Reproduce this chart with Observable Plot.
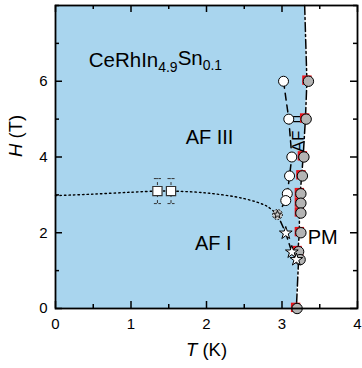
<!DOCTYPE html>
<html>
<head>
<meta charset="utf-8">
<script src="https://cdn.jsdelivr.net/npm/d3@7"></script>
<script src="https://cdn.jsdelivr.net/npm/@observablehq/plot@0.6"></script>
<style>
  html, body { margin: 0; padding: 0; background: #fff; }
  #chart svg { display: block; }
</style>
</head>
<body>
<div id="chart"></div>
<script>
// Axis ticks
const tempTicks = [0, 1, 2, 3, 4];
const tempMinor = [0.5, 1.5, 2.5, 3.5];
const fieldTicks = [0, 2, 4, 6];
const fieldMinor = [1, 3, 5, 7, 8];

// Paramagnetic boundary (dash-dot line, edge of the ordered region)
const boundaryT = [3.30, 3.33, 3.31, 3.28, 3.26, 3.24, 3.23, 3.23, 3.21, 3.22, 3.19];
const boundaryH = [8.0, 6.0, 5.0, 4.0, 3.5, 3.0, 2.5, 2.0, 1.5, 1.3, 0.0];

// T_N from specific heat (grey circles) and resistivity (red squares)
const grayT = [3.35, 3.32, 3.29, 3.27, 3.25, 3.25, 3.25, 3.25, 3.22, 3.24, 3.20];
const grayH = [6.0, 5.0, 4.0, 3.5, 3.03, 2.78, 2.52, 2.0, 1.5, 1.29, 0.0];
const redT = [3.33, 3.30, 3.27, 3.25, 3.23, 3.23, 3.23, 3.23, 3.20, 3.22, 3.18];
const redH = [6.03, 5.03, 4.03, 3.53, 3.06, 2.81, 2.55, 2.03, 1.53, 1.32, 0.03];

// AF III / AF II transition (open circles)
const openT = [3.02, 3.09, 3.13, 3.10, 3.07, 3.05];
const openH = [6.0, 5.0, 4.0, 3.5, 3.03, 2.85];

// AF I transition (stars) and the tricritical-like point
const starT = [3.05, 3.13, 3.19];
const starH = [1.99, 1.49, 1.29];
const crossT = [2.94];
const crossH = [2.48];

// Dashed line through open circles and stars
const dashT = [3.02, 3.09, 3.13, 3.10, 3.07, 3.05, 2.94, 3.05, 3.13, 3.19];
const dashH = [6.0, 5.0, 4.0, 3.5, 3.03, 2.85, 2.48, 1.99, 1.49, 1.29];

// Dotted AF I / AF III line and the low-temperature squares
const dotT = [0.0, 0.5, 1.0, 1.35, 1.53, 2.0, 2.5, 2.8, 2.94];
const dotH = [2.98, 3.02, 3.07, 3.10, 3.10, 3.05, 2.90, 2.70, 2.48];
const squareT = [1.35, 1.53];
const squareH = [3.10, 3.10];
const squareErr = [0.33, 0.33];

const zip = (xs, ys) => xs.map((x, i) => ({T: x, H: ys[i]}));
const boundary = zip(boundaryT, boundaryH);
const gray = zip(grayT, grayH);
const red = zip(redT, redH);
const open = zip(openT, openH);
const stars = zip(starT, starH);
const cross = zip(crossT, crossH);
const dashed = zip(dashT, dashH);
const dotted = zip(dotT, dotH);
const squares = squareT.map((t, i) => ({T: t, H: squareH[i], e: squareErr[i]}));

// bar joining the open and grey points at 5 T
const bar5 = [{x1: openT[1], x2: grayT[1], H: openH[1]}];

const W = 362, Hgt = 368;
const mL = 55, mR = 5, mT = 5, mB = 60;
const fw = W - mL - mR, fh = Hgt - mT - mB;
const major = 7, minor = 4;

const capSymbol = {
  draw(ctx, size) {
    const w = Math.sqrt(size) / 2;
    ctx.moveTo(-w, 0); ctx.lineTo(w, 0);
  }
};

const inTicks = (values, len, axis) => axis === "x"
  ? [
      Plot.tickX(values, {x: d => d, insetTop: fh - len, stroke: "black", strokeWidth: 1.5}),
      Plot.tickX(values, {x: d => d, insetBottom: fh - len, stroke: "black", strokeWidth: 1.5})
    ]
  : [
      Plot.tickY(values, {y: d => d, insetRight: fw - len, stroke: "black", strokeWidth: 1.5}),
      Plot.tickY(values, {y: d => d, insetLeft: fw - len, stroke: "black", strokeWidth: 1.5})
    ];

const chart = Plot.plot({
  width: W,
  height: Hgt,
  marginLeft: mL,
  marginRight: mR,
  marginTop: mT,
  marginBottom: mB,
  style: {fontFamily: "'Liberation Sans', Arial, sans-serif", fontSize: "15px", background: "white", color: "black"},
  x: {domain: [0, 4]},
  y: {domain: [0, 8]},
  marks: [
    // ordered region
    Plot.areaX(boundary, {x1: 0, x2: "T", y: "H", fill: "#a9d5ee", curve: "linear"}),

    // phase lines
    Plot.line(dotted, {x: "T", y: "H", curve: "catmull-rom", stroke: "black", strokeWidth: 1.4, strokeDasharray: "1.5,3"}),
    Plot.line(boundary, {x: "T", y: "H", stroke: "black", strokeWidth: 1.5, strokeDasharray: "9,3,2,3"}),
    Plot.line(dashed, {x: "T", y: "H", stroke: "black", strokeWidth: 1.5, strokeDasharray: "7,5"}),

    // error bars on squares
    Plot.ruleX(squares, {x: "T", y1: d => d.H - d.e, y2: d => d.H + d.e, stroke: "#333", strokeWidth: 1, strokeDasharray: "3,3"}),
    Plot.dot(squares, {x: "T", y: d => d.H + d.e, symbol: capSymbol, r: 4, stroke: "#333", strokeWidth: 1, strokeDasharray: "3,1.5"}),
    Plot.dot(squares, {x: "T", y: d => d.H - d.e, symbol: capSymbol, r: 4, stroke: "#333", strokeWidth: 1, strokeDasharray: "3,1.5"}),
    Plot.dot(squares, {x: "T", y: "H", symbol: "square", r: 5.2, fill: "white", stroke: "#333", strokeWidth: 1.2}),

    // 5 T connector
    Plot.ruleY(bar5, {x1: "x1", x2: "x2", y: "H", dy: -2.5, stroke: "black", strokeWidth: 1.2}),
    Plot.ruleY(bar5, {x1: "x1", x2: "x2", y: "H", dy: 2.5, stroke: "black", strokeWidth: 1.2}),

    // data points
    Plot.dot(red, {x: "T", y: "H", symbol: "square", r: 5.3, fill: "#e8141c", stroke: "none"}),
    Plot.dot(gray, {x: "T", y: "H", r: 5.2, fill: "#b4b4b4", stroke: "black", strokeWidth: 1}),
    Plot.dot(open, {x: "T", y: "H", r: 5, fill: "white", stroke: "black", strokeWidth: 1}),
    Plot.dot(stars, {x: "T", y: "H", symbol: "star", r: 4, fill: "white", stroke: "black", strokeWidth: 1}),
    Plot.dot(cross, {x: "T", y: "H", r: 5, fill: "#c8c8c8", stroke: "black", strokeWidth: 1, strokeDasharray: "1.5,1.5"}),
    Plot.dot(cross, {x: "T", y: "H", symbol: "star", r: 2.6, fill: "none", stroke: "black", strokeWidth: 0.9}),

    // phase labels
    Plot.text(["CeRhIn4.9Sn0.1"], {x: 0.44, y: 6.55, textAnchor: "start", fontSize: 20.5}),
    Plot.text(["AF III"], {x: 2.04, y: 4.51, fontSize: 20}),
    Plot.text(["AF I"], {x: 2.09, y: 1.72, fontSize: 20}),
    Plot.text(["PM"], {x: 3.54, y: 1.87, fontSize: 20}),
    Plot.text(["AF"], {x: 3.22, y: 4.41, fontSize: 17, rotate: -90}),

    // inward ticks on all four sides
    ...inTicks(tempTicks, major, "x"),
    ...inTicks(tempMinor, minor, "x"),
    ...inTicks(fieldTicks, major, "y"),
    ...inTicks(fieldMinor, minor, "y"),

    Plot.axisX(tempTicks, {tickSize: 0, tickPadding: 10, label: null, fontSize: 15}),
    Plot.axisY(fieldTicks, {tickSize: 0, tickPadding: 8, label: null, fontSize: 15}),
    Plot.text(["T (K)"], {frameAnchor: "bottom", dy: 47, fontSize: 18.5}),
    Plot.text(["H (T)"], {frameAnchor: "left", dx: -39, rotate: -90, fontSize: 18.5}),

    Plot.frame({stroke: "black", strokeWidth: 1.8})
  ]
});

// rich text: italics and subscripts
const svg = d3.select(chart);
svg.selectAll("text").each(function () {
  const t = d3.select(this);
  const s = this.textContent;
  if (s === "CeRhIn4.9Sn0.1") {
    t.text(null);
    t.append("tspan").text("CeRhIn");
    t.append("tspan").attr("dy", "0.35em").attr("font-size", "0.68em").text("4.9");
    t.append("tspan").attr("dy", "-0.35em").text("Sn");
    t.append("tspan").attr("dy", "0.35em").attr("font-size", "0.68em").text("0.1");
  } else if (s === "T (K)" || s === "H (T)") {
    t.text(null);
    t.append("tspan").attr("font-style", "italic").text(s[0]);
    t.append("tspan").text(s.slice(1));
  }
});

document.getElementById("chart").appendChild(chart);
</script>
</body>
</html>
